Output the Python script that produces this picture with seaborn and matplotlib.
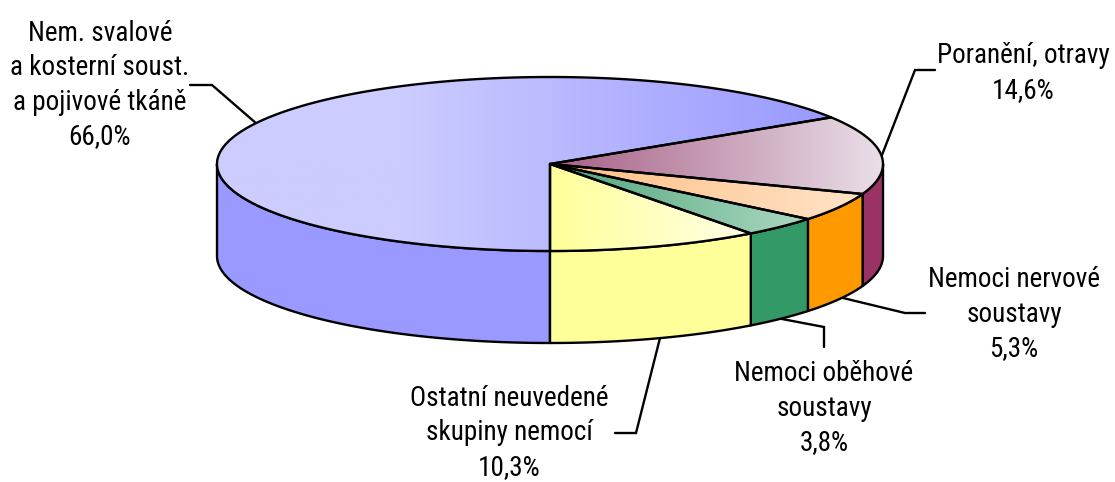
import numpy as np
import seaborn as sns
import matplotlib.pyplot as plt
from matplotlib import font_manager
from matplotlib.colors import LinearSegmentedColormap
from matplotlib.patches import Polygon

# clockwise from 6 o'clock
names = ["Nem. svalové\na kosterní soust.\na pojivové tkáně",
         "Poranění, otravy",
         "Nemoci nervové\nsoustavy",
         "Nemoci oběhové\nsoustavy",
         "Ostatní neuvedené\nskupiny nemocí"]
values = [66.0, 14.6, 5.3, 3.8, 10.3]
side_colors = ["#9999FF", "#993366", "#FF9900", "#339966", "#FFFF99"]
top_dark = ["#9999FF", "#A65F85", "#FFBE80", "#4FA578", "#FFFF99"]
top_light = ["#CCCCFF", "#EADFE8", "#FFE3C8", "#ACD8C2", "#FFFFE6"]

# pie geometry in pixels
cx, cy, rx, ry, depth = 550, 164, 333, 87, 92
lw = 1.7

sns.set_theme(style="white")
installed = {f.name for f in font_manager.fontManager.ttflist}
if "Roboto Condensed" in installed:
    plt.rcParams["font.family"] = ["Roboto Condensed", "DejaVu Sans"]
    font_size = 19.5
else:
    plt.rcParams["font.family"] = ["Liberation Sans", "DejaVu Sans"]
    font_size = 17

fig = plt.figure(figsize=(11.15, 4.82), dpi=100)
ax = fig.add_axes([0, 0, 1, 1])
ax.axis("off")


def rim(a, b, dz=0):
    t = np.radians(np.linspace(a, b, max(int(abs(b - a)) * 2, 2)))
    return np.column_stack([cx - rx * np.sin(t), cy + ry * np.cos(t) + dz])


edges = np.concatenate([[0], np.cumsum(values)]) * 3.6

# side walls, only the front half of the rim shows
for i, col in enumerate(sns.color_palette(side_colors)):
    for lo, hi in [(0, 90), (270, 360)]:
        a, b = max(edges[i], lo), min(edges[i + 1], hi)
        if b > a:
            pts = np.vstack([rim(a, b), rim(b, a, depth)])
            ax.add_patch(Polygon(pts, closed=True, fc=col, ec="black", lw=lw, joinstyle="round"))

# top face, horizontal gradient clipped to each slice
for i in range(len(values)):
    pts = np.vstack([[[cx, cy]], rim(edges[i], edges[i + 1])])
    poly = Polygon(pts, closed=True, fc="none", ec="black", lw=lw, joinstyle="round", zorder=3)
    ax.add_patch(poly)
    x0, x1 = pts[:, 0].min(), pts[:, 0].max()
    y0, y1 = pts[:, 1].min(), pts[:, 1].max()
    if i == 0:
        cmap = LinearSegmentedColormap.from_list("c", [(0, top_light[0]), (0.3, top_light[0]), (1, top_dark[0])])
    else:
        cmap = LinearSegmentedColormap.from_list("c", [top_dark[i], top_light[i]])
    im = ax.imshow(np.linspace(0, 1, 256)[None, :], cmap=cmap, extent=[x0, x1, y1, y0],
                   aspect="auto", zorder=2)
    im.set_clip_path(poly)

ax.set_xlim(0, 1115)
ax.set_ylim(482, 0)

# leader lines
leaders = [[(190, 85), (212, 85), (257, 124)],
           [(935, 70), (915, 70), (882, 155)],
           [(843, 298), (905, 313), (925, 313)],
           [(782, 319), (824, 327), (824, 347)],
           [(660, 338), (636, 433), (615, 433)]]
for line in leaders:
    xs, ys = zip(*line)
    ax.plot(xs, ys, color="black", lw=lw, zorder=1, solid_joinstyle="miter")

# label block centres
label_pos = [(100, 85), (1023, 73), (1014, 314), (824, 408), (509, 433)]
for name, v, (x, y) in zip(names, values, label_pos):
    txt = name + "\n" + f"{v:.1f}%".replace(".", ",")
    ax.text(x, y, txt, ha="center", va="center", fontsize=font_size, color="black",
            linespacing=1.35, zorder=5)

fig.savefig("out.png", dpi=100)
plt.close(fig)
